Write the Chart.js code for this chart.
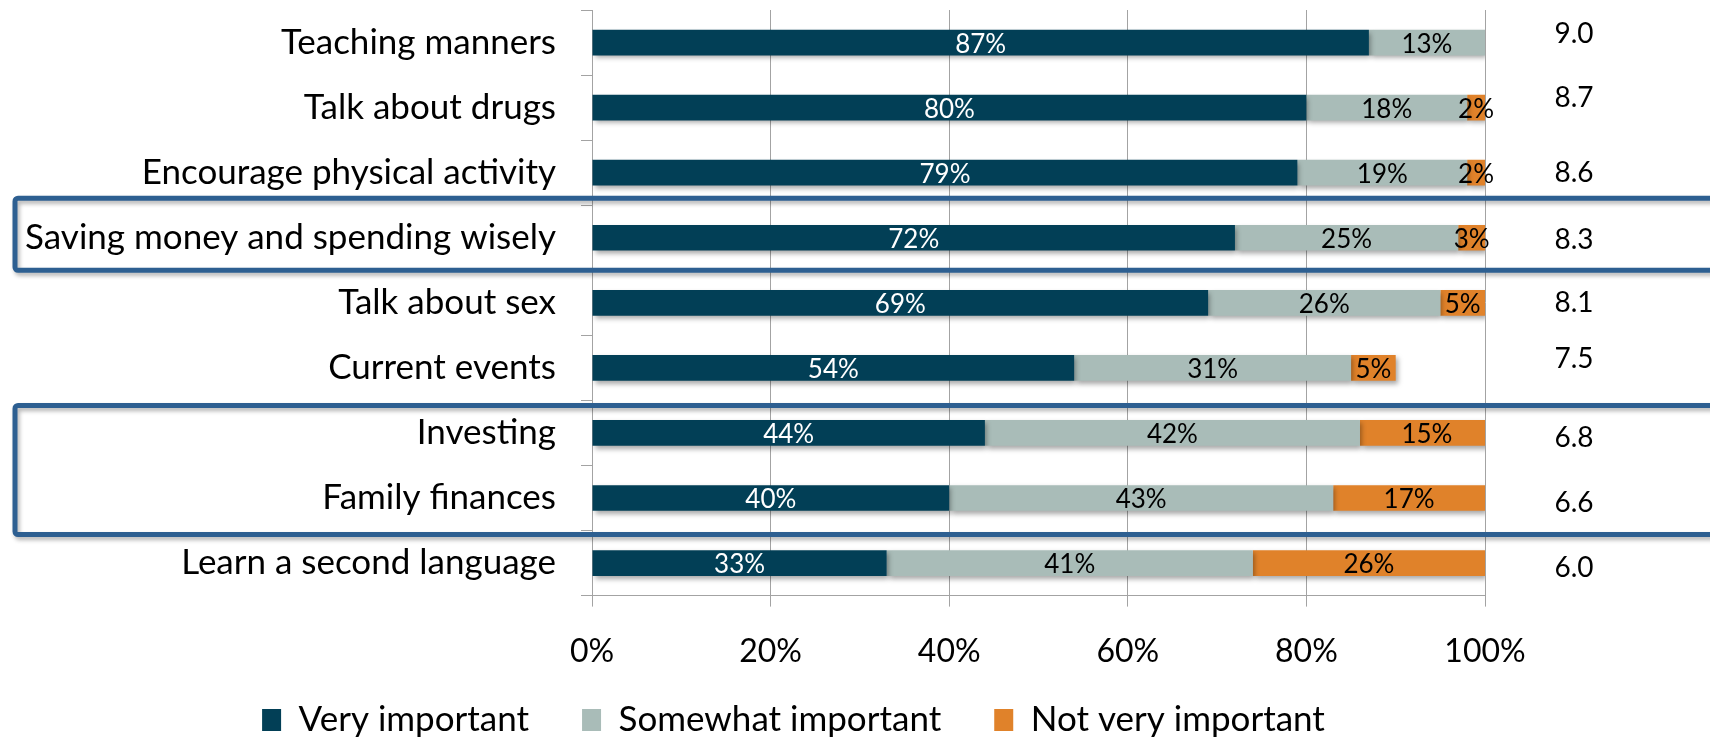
<!DOCTYPE html>
<html lang="en">

<head>
   <meta charset="UTF-8">
   <title>Teaching priorities</title>
   <script src="https://cdn.jsdelivr.net/npm/chart.js@4.4.1/dist/chart.umd.min.js"></script>
   <style>
      html, body { margin: 0; padding: 0; background: #fff; }
      canvas { display: block; }
   </style>
</head>

<body>
   <canvas id="myChart" width="1710" height="737"></canvas>
   <script>
      const categories = [
         'Teaching manners',
         'Talk about drugs',
         'Encourage physical activity',
         'Saving money and spending wisely',
         'Talk about sex',
         'Current events',
         'Investing',
         'Family finances',
         'Learn a second language'
      ];
      const veryImportant = [87, 80, 79, 72, 69, 54, 44, 40, 33];
      const somewhatImportant = [13, 18, 19, 25, 26, 31, 42, 43, 41];
      const notVeryImportant = [null, 2, 2, 3, 5, 5, 15, 17, 26];
      const scores = [9.0, 8.7, 8.6, 8.3, 8.1, 7.5, 6.8, 6.6, 6.0];
      const xTicks = [0, 20, 40, 60, 80, 100];

      // small vertical nudges (px) for the score column
      const scoreNudge = [-9, -10, 0, 2, 0, -9, 5, 5, 5];
      // highlighted rows: first/last category index and extra px above/below the band
      const highlights = [
         { from: 3, to: 3, padTop: 7, padBottom: 0 },
         { from: 6, to: 7, padTop: -5, padBottom: 4 }
      ];

      const FONT = 'Lato';
      const gridColor = '#a3a3a3';

      // soft drop shadow under the bars
      const barShadow = {
         id: 'barShadow',
         beforeDatasetsDraw(chart) {
            const ctx = chart.ctx;
            ctx.save();
            ctx.shadowColor = 'rgba(0,0,0,0.35)';
            ctx.shadowBlur = 5;
            ctx.shadowOffsetX = 2;
            ctx.shadowOffsetY = 3;
         },
         afterDatasetsDraw(chart) {
            chart.ctx.restore();
         }
      };

      // percentage labels centred on each segment
      const segmentLabels = {
         id: 'segmentLabels',
         afterDatasetsDraw(chart) {
            const ctx = chart.ctx;
            ctx.save();
            ctx.font = `26px ${FONT}`;
            ctx.textAlign = 'center';
            ctx.textBaseline = 'middle';
            chart.data.datasets.forEach((ds, di) => {
               const meta = chart.getDatasetMeta(di);
               meta.data.forEach((bar, i) => {
                  const v = ds.data[i];
                  if (v == null) return;
                  ctx.fillStyle = di === 0 ? '#ffffff' : '#000000';
                  ctx.fillText(v + '%', (bar.x + bar.base) / 2, bar.y + 2);
               });
            });
            ctx.restore();
         }
      };

      // legend sits centred under the label column + plot, a bit higher
      const legendShift = {
         id: 'legendShift',
         afterLayout(chart) {
            const lg = chart.legend;
            lg.left += 51;
            lg.right += 51;
            lg.top -= 24;
            lg.bottom -= 24;
         }
      };

      // score column on the right and the highlight frames
      const extras = {
         id: 'extras',
         afterDraw(chart) {
            const ctx = chart.ctx;
            const y = chart.scales.y;
            const area = chart.chartArea;
            const band = (y.getPixelForValue(1) - y.getPixelForValue(0));

            ctx.save();
            ctx.font = `28px ${FONT}`;
            ctx.fillStyle = '#000';
            ctx.textAlign = 'center';
            ctx.textBaseline = 'middle';
            scores.forEach((s, i) => {
               ctx.fillText(s.toFixed(1), area.right + 89, y.getPixelForValue(i) + scoreNudge[i]);
            });
            ctx.restore();

            ctx.save();
            ctx.strokeStyle = '#2d5f91';
            ctx.lineWidth = 5;
            ctx.shadowColor = 'rgba(0,0,0,0.3)';
            ctx.shadowBlur = 4;
            ctx.shadowOffsetX = 2;
            ctx.shadowOffsetY = 3;
            highlights.forEach(h => {
               const top = y.getPixelForValue(h.from) - band / 2 - h.padTop;
               const bottom = y.getPixelForValue(h.to) + band / 2 + h.padBottom;
               ctx.beginPath();
               ctx.roundRect(15, top, chart.width + 20, bottom - top, 3);
               ctx.stroke();
            });
            ctx.restore();
         }
      };

      const config = {
         type: 'bar',
         data: {
            labels: categories,
            datasets: [{
               label: 'Very important',
               data: veryImportant,
               backgroundColor: '#023f56'
            }, {
               label: 'Somewhat important',
               data: somewhatImportant,
               backgroundColor: '#a9bcb8'
            }, {
               label: 'Not very important',
               data: notVeryImportant,
               backgroundColor: '#e0822a'
            }]
         },
         options: {
            indexAxis: 'y',
            responsive: false,
            animation: false,
            barPercentage: 0.395,
            categoryPercentage: 1,
            layout: {
               padding: { left: 0, right: 225, top: 10, bottom: -34.6 }
            },
            scales: {
               x: {
                  stacked: true,
                  min: 0,
                  max: 100,
                  afterBuildTicks(scale) {
                     scale.ticks = xTicks.map(v => ({ value: v }));
                  },
                  afterFit(scale) { scale.height = 78; },
                  grid: { color: gridColor, lineWidth: 1, tickLength: 11 },
                  border: { color: gridColor },
                  ticks: {
                     color: '#000',
                     font: { family: FONT, size: 32 },
                     padding: 26,
                     maxRotation: 0,
                     autoSkip: false,
                     callback: v => v + '%'
                  }
               },
               y: {
                  stacked: true,
                  afterFit(scale) {
                     scale.width = 592;
                     // labels sit inside their bands, no extra room needed above/below
                     scale.paddingTop = 0;
                     scale.paddingBottom = 0;
                  },
                  grid: {
                     offset: true,
                     drawOnChartArea: false,
                     color: gridColor,
                     tickLength: 11
                  },
                  border: { color: gridColor },
                  ticks: {
                     color: '#000',
                     font: { family: FONT, size: 35 },
                     padding: 25,
                     autoSkip: false
                  }
               }
            },
            plugins: {
               legend: {
                  position: 'bottom',
                  labels: {
                     color: '#000',
                     font: { family: FONT, size: 35 },
                     boxWidth: 19,
                     boxHeight: 22,
                     padding: 53
                  }
               },
               tooltip: { enabled: false }
            }
         },
         plugins: [barShadow, segmentLabels, legendShift, extras]
      };

      const ctx = document.getElementById('myChart').getContext('2d');
      const chart = new Chart(ctx, config);
   </script>
</body>

</html>
